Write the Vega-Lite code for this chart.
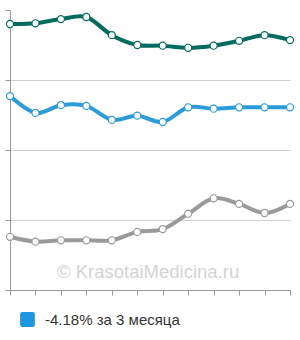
{
  "$schema": "https://vega.github.io/schema/vega-lite/v6.json",
  "width": 280,
  "height": 280,
  "autosize": {"type": "none"},
  "padding": {"left": 10, "top": 10, "right": 10, "bottom": 50},
  "background": "white",
  "config": {"view": {"stroke": null}},
  "datasets": {
    "series": [
      {"i": 0, "s": "A", "v": 3.80}, {"i": 1, "s": "A", "v": 3.81}, {"i": 2, "s": "A", "v": 3.87}, {"i": 3, "s": "A", "v": 3.90},
      {"i": 4, "s": "A", "v": 3.64}, {"i": 5, "s": "A", "v": 3.50}, {"i": 6, "s": "A", "v": 3.49}, {"i": 7, "s": "A", "v": 3.46},
      {"i": 8, "s": "A", "v": 3.49}, {"i": 9, "s": "A", "v": 3.56}, {"i": 10, "s": "A", "v": 3.64}, {"i": 11, "s": "A", "v": 3.57},
      {"i": 0, "s": "-4.18% за 3 месяца", "v": 2.77}, {"i": 1, "s": "-4.18% за 3 месяца", "v": 2.53}, {"i": 2, "s": "-4.18% за 3 месяца", "v": 2.64}, {"i": 3, "s": "-4.18% за 3 месяца", "v": 2.63},
      {"i": 4, "s": "-4.18% за 3 месяца", "v": 2.43}, {"i": 5, "s": "-4.18% за 3 месяца", "v": 2.49}, {"i": 6, "s": "-4.18% за 3 месяца", "v": 2.40}, {"i": 7, "s": "-4.18% за 3 месяца", "v": 2.61},
      {"i": 8, "s": "-4.18% за 3 месяца", "v": 2.59}, {"i": 9, "s": "-4.18% за 3 месяца", "v": 2.61}, {"i": 10, "s": "-4.18% за 3 месяца", "v": 2.61}, {"i": 11, "s": "-4.18% за 3 месяца", "v": 2.61},
      {"i": 0, "s": "C", "v": 0.76}, {"i": 1, "s": "C", "v": 0.69}, {"i": 2, "s": "C", "v": 0.71}, {"i": 3, "s": "C", "v": 0.71},
      {"i": 4, "s": "C", "v": 0.71}, {"i": 5, "s": "C", "v": 0.83}, {"i": 6, "s": "C", "v": 0.87}, {"i": 7, "s": "C", "v": 1.09},
      {"i": 8, "s": "C", "v": 1.31}, {"i": 9, "s": "C", "v": 1.23}, {"i": 10, "s": "C", "v": 1.10}, {"i": 11, "s": "C", "v": 1.23}
    ],
    "mark": [{"i": 2, "v": 0.17, "t": "© KrasotaiMedicina.ru"}]
  },
  "encoding": {
    "x": {"field": "i", "type": "ordinal",
      "scale": {"type": "point", "domain": [0,1,2,3,4,5,6,7,8,9,10,11], "padding": 0},
      "axis": {"title": null, "labels": false, "grid": false, "domainColor": "#999", "tickColor": "#999", "tickSize": 5}},
    "y": {"field": "v", "type": "quantitative", "scale": {"domain": [0, 4], "nice": false},
      "axis": {"title": null, "labels": false, "tickCount": 4, "domainColor": "#999", "tickColor": "#999", "tickSize": 5,
        "gridColor": "#d0d0d0", "gridOpacity": {"condition": {"test": "datum.value === 4", "value": 0}, "value": 1}}}
  },
  "layer": [
    {
      "data": {"name": "mark"},
      "mark": {"type": "text", "font": "Liberation Sans", "fontSize": 18.5, "color": "#d4d4d4", "baseline": "alphabetic", "align": "left", "dx": -4},
      "encoding": {"text": {"field": "t"}}
    },
    {
      "data": {"name": "series"},
      "mark": {"type": "line", "interpolate": "cardinal", "strokeWidth": 4},
      "encoding": {
        "color": {"field": "s", "type": "nominal",
          "scale": {"domain": ["A", "-4.18% за 3 месяца", "C"], "range": ["#006b5e", "#2b9bda", "#9a9a9a"]},
          "legend": {"values": ["-4.18% за 3 месяца"], "title": null, "orient": "none", "legendX": 10, "legendY": 302,
            "symbolType": "M-1,-0.7Q-1,-1,-0.7,-1L0.7,-1Q1,-1,1,-0.7L1,0.7Q1,1,0.7,1L-0.7,1Q-1,1,-1,0.7Z",
            "symbolSize": 220, "symbolFillColor": "#2196e0", "symbolStrokeWidth": 0,
            "labelFont": "Liberation Sans", "labelFontSize": 15, "labelColor": "#333", "labelOffset": 10}}
      }
    },
    {
      "data": {"name": "series"},
      "mark": {"type": "point", "filled": false, "fill": "white", "fillOpacity": 1, "size": 50, "strokeWidth": 1.2},
      "encoding": {
        "stroke": {"field": "s", "type": "nominal",
          "scale": {"domain": ["A", "-4.18% за 3 месяца", "C"], "range": ["#006b5e", "#2b9bda", "#9a9a9a"]}, "legend": null}
      }
    }
  ]
}
